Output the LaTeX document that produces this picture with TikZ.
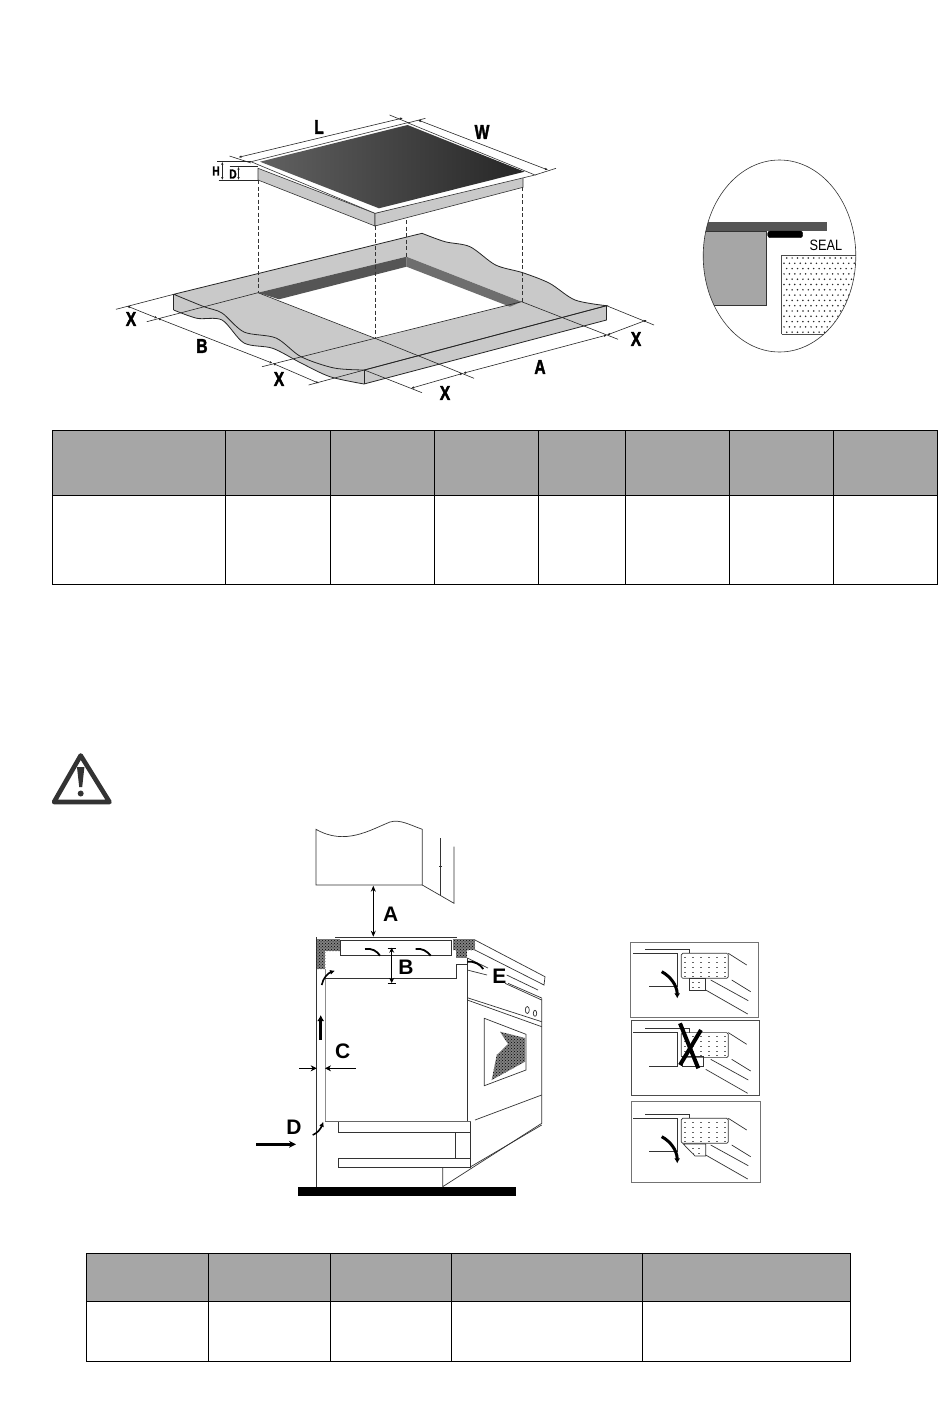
\documentclass[tikz,border=0pt]{standalone}
\usepackage{fontspec}
\setmainfont{Liberation Sans}
\newfontfamily\heavyfont[BoldFeatures={FakeBold=2.2}]{Liberation Sans}
\usepackage{tikz}
\usetikzlibrary{patterns}
\usetikzlibrary{arrows.meta}
\definecolor{tablehead}{HTML}{A6A6A6}
\definecolor{slabgray}{HTML}{C9C9C9}
\definecolor{walldark}{HTML}{555555}
\tikzset{
  dimline/.style={draw=black!85, line width=0.6pt},
  dimarrow/.style={dimline, {Latex[length=3pt,width=2.5pt]}-{Latex[length=3pt,width=2.5pt]}},
  hidden/.style={draw=black!80, line width=0.5pt, dashed, dash pattern=on 4pt off 2.5pt},
  hoblabel/.style={font=\heavyfont\bfseries\fontsize{20}{20}\selectfont, xscale=0.78, inner sep=0pt},
  smalllabel/.style={font=\heavyfont\bfseries\fontsize{13}{13}\selectfont, xscale=0.78, inner sep=0pt},
  ovenlabel/.style={font=\bfseries\fontsize{21}{21}\selectfont, inner sep=0pt},
  ovenline/.style={draw=black!80, line width=0.7pt},
  tablegrid/.style={draw=black, line width=0.9pt},
  flow/.style={line width=2.4pt, -{Latex[length=5pt,width=6pt]}},
  panelbox/.style={draw=black!55, line width=1pt},
  hatchblock/.style={fill=black!50, postaction={pattern=crosshatch dots, pattern color=black}},
  ventpanel/.pic={
    \draw[ovenline] (25,14.3) -- (69.3,14.3) -- (69.3,18.3);
    \draw[ovenline] (13.3,18.3) -- (57.3,18.3) -- (57.3,51.7) -- (29,51.7);
    \draw[ovenline, rounded corners=1.5pt] (61.3,18.3) -- (108.3,18.3) -- (108.3,43.3) -- (61.3,43.3) -- cycle;
    \foreach \px in {64,72,80,88,96,104}
      \foreach \py in {22,27,32,37,41}
        \draw[black!60, line width=0.8pt] (\px,\py) -- ++(2.4,0);
    \draw[ovenline] (108.3,18.3) -- (126.7,30);
    \draw[ovenline] (111.7,45) -- (130.7,56.7);
    \draw[ovenline] (90.7,45) -- (128.3,65.7);
    \draw[ovenline] (85.7,55) -- (127.7,79);
  }
}
\begin{document}
\begin{tikzpicture}[x=1pt, y=-1pt]
  \useasboundingbox (0,0) rectangle (950,1419);
  \fill[white] (0,0) rectangle (950,1419);

  % worktop
  \fill[slabgray] (173.7,294.3) -- (173.7,310) -- plot[smooth] coordinates {(173.7,310) (197,318.3) (222,320) (244,343) (272.7,348.3) (301,363) (330,376.7) (364,384)} -- (606.5,320) -- (606.5,305.7) -- cycle;
  \draw[black!85, line width=0.8pt, fill=slabgray] (173.7,294.3) -- (422,233.3) -- plot[smooth] coordinates {(422,233.3) (445,241.7) (470,246.7) (495.6,265) (522.7,272.7) (549.6,283.3) (575,300) (606.5,305.7)} -- (364.4,370) -- plot[smooth] coordinates {(364.4,370) (334,368) (301,356.7) (276,338) (244,332) (222,313) (204,306.7) (173.7,294.3)};
  \draw[black!85, line width=0.8pt] plot[smooth] coordinates {(173.7,310) (197,318.3) (222,320) (244,343) (272.7,348.3) (301,363) (330,376.7) (364,384)} -- (606.5,320) -- (606.5,305.7);
  \draw[black!85, line width=0.8pt] (173.7,294.3) -- (173.7,310);
  \draw[black!85, line width=0.8pt] (364.4,370) -- (364.4,384);
  \fill[white] (258,292.7) -- (406.5,256.7) -- (521.6,301.7) -- (375,338.3) -- cycle;
  \fill[walldark] (258,292.7) -- (406.5,256.7) -- (406.5,266.7) -- (279,299.3) -- cycle;
  \fill[walldark!85] (406.5,256.7) -- (521.6,301.7) -- (510,306.7) -- (406.5,266.7) -- cycle;

  % extension lines
  \coordinate (xa) at (157.6,318.3);
  \coordinate (xb) at (127,306);
  \coordinate (xc) at (272.7,363.3);
  \coordinate (xd) at (319,383.3);
  \coordinate (xe) at (411,388.3);
  \coordinate (xf) at (463,373.3);
  \coordinate (xg) at (607,335);
  \coordinate (xh) at (646.8,320);
  \draw[dimline] (116,309.3) -- (173.7,294.3);
  \draw[dimline] (146.8,321.7) -- (258,292.7);
  \draw[dimline] (262,366.7) -- (375,338.3) -- (521.6,301.7);
  \draw[dimline] (308.6,385) -- (364.4,370) -- (606.5,305.7);
  \draw[dimline] (258,292.7) -- (375,338.3) -- (474,378.3);
  \draw[dimline] (521.6,301.7) -- (618,339.3);
  \draw[dimline] (606.5,305.7) -- (654,325);
  \draw[dimline] (364.4,370) -- (422,392.7);
  \draw[dimarrow] (xb) -- (xa);
  \draw[dimarrow] (xa) -- (xc);
  \draw[dimarrow] (xc) -- (xd);
  \draw[dimarrow] (xe) -- (xf);
  \draw[dimarrow] (xf) -- (xg);
  \draw[dimarrow] (xg) -- (xh);

  % hob
  \draw[black!80, line width=0.6pt, fill=slabgray] (258,168.3) -- (375,213.3) -- (375,226) -- (258,180) -- cycle;
  \draw[black!80, line width=0.6pt, fill=slabgray] (375,213.3) -- (523,176) -- (523,187.3) -- (375,226) -- cycle;
  \draw[black!80, line width=0.6pt, fill=white] (251,161.7) -- (407.5,122.7) -- (535,175) -- (375,213.3) -- cycle;
  \shade[left color=black!62, middle color=black!55, right color=black!85] (260,161.7) -- (407.5,125) -- (524.5,171.7) -- (379,208.3) -- cycle;
  \draw[hidden] (258,180) -- (258,292.7);
  \draw[hidden] (375,226) -- (375,338.3);
  \draw[hidden] (406.5,220) -- (406.5,256.7);
  \draw[hidden] (522.7,187.3) -- (522.7,301.7);

  % hob dimensions
  \coordinate (la) at (238.5,157.3);
  \coordinate (lb) at (403,118);
  \coordinate (wa) at (418,120);
  \coordinate (wb) at (548,170);
  \coordinate (ha) at (222.3,161.7);
  \coordinate (hb) at (222.3,180);
  \coordinate (da) at (238.5,166.7);
  \coordinate (db) at (238.5,180);
  \draw[dimline] (229.5,156) -- (251,163);
  \draw[dimline] (389.6,115) -- (409,123);
  \draw[dimline] (407.5,123) -- (425.5,118.3);
  \draw[dimline] (535,175) -- (556,168.3);
  \draw[dimline] (217,161.7) -- (251,161.7);
  \draw[dimline] (229.5,166.7) -- (258,166.7);
  \draw[dimline] (218.7,180) -- (258,180);
  \draw[dimarrow] (la) -- (lb);
  \draw[dimarrow] (wa) -- (wb);
  \draw[dimarrow] (ha) -- (hb);
  \draw[dimarrow] (da) -- (db);

  \node[hoblabel] (labl) at (319,127){L};
  \node[hoblabel] (labw) at (482,132){W};
  \node[smalllabel] (labh) at (216,171){H};
  \node[smalllabel] (labd) at (233,174){D};
  \node[hoblabel] (labx1) at (131,319){X};
  \node[hoblabel] (labb) at (202,346){B};
  \node[hoblabel] (labx2) at (279,379){X};
  \node[hoblabel] (labx3) at (445,393){X};
  \node[hoblabel] (laba) at (540,367){A};
  \node[hoblabel] (labx4) at (636,339){X};

  % seal detail
  \begin{scope}
    \clip (779.5,256) ellipse [x radius=76.3, y radius=96];
    \draw[black!80, line width=0.8pt, fill=black!35] (700,231) -- (766.7,231) -- (766.7,305) -- (700,305);
    \fill[walldark] (700,221.7) rectangle (827,231);
    \draw[black!70, line width=0.7pt] (781.7,334.3) -- (781.7,255) -- (860,255);
    \draw[black!70, line width=0.7pt] (781.7,334.3) -- (860,334.3);
    \foreach \py [count=\rowno] in {258,263.3,...,334}
      \foreach \px in {784,789.4,...,860}
        \fill[black!85] ({\px+mod(\rowno,2)*2.7},\py) circle (0.85);
  \end{scope}
  \draw[black!80, line width=0.6pt] (779.5,256) ellipse [x radius=76.3, y radius=96];
  \draw[black, fill=black, rounded corners=2.5pt] (767.7,231) rectangle (802.7,237.7);
  \node[inner sep=0pt, font=\fontsize{15}{15}\selectfont, xscale=0.85] (labseal) at (826,245){SEAL};

  % first table
  \fill[tablehead] (52,430) rectangle (937,495);
  \draw[tablegrid] (52,430) rectangle (937,584);
  \draw[tablegrid] (52,495) -- (937,495);
  \foreach \cx in {225,330,434,538,625,729,833}
    \draw[tablegrid] (\cx,430) -- (\cx,584);

  % warning sign
  \draw[black!80, line width=4.6pt, line join=round] (80.7,755.5) -- (54,802) -- (109.5,802) -- cycle;
  \fill[black!80] (77,767) -- (84.4,767) -- (82.2,787) -- (79.2,787) -- cycle;
  \fill[black!80] (80.7,793.5) circle (3);

  % wall cabinet
  \draw[ovenline] (316,885) -- (316,829.3) .. controls (345,846) and (370,830) .. (390,822) .. controls (400,819) and (410,825) .. (422.3,829.3) -- (422.3,885) -- cycle;
  \draw[ovenline] (422.3,885) -- (454,903.3) -- (454,846.7);
  \draw[ovenline] (440.7,838.3) -- (440.7,895.7);
  \draw[ovenline] (439,866) -- (442,866);

  % carcass
  \fill[black] (298.3,1186.7) rectangle (516,1195.7);
  \draw[ovenline] (316.7,937.3) -- (316.7,1186.7);
  \draw[black!45, line width=1pt] (325,969) -- (325,1121.7);
  \draw[ovenline] (335,937.3) -- (456.7,937.3);
  \draw[ovenline] (340.7,940) -- (340.7,955.7) -- (451.7,955.7) -- (451.7,940) -- cycle;
  \draw[ovenline] (325,978.3) -- (456.7,978.3) -- (456.7,964) -- (467.3,964);
  \draw[ovenline] (467.3,958) -- (467.3,1121.7);
  \draw[black!60, line width=0.8pt] (325,1121.7) -- (470.7,1121.7);
  \path[hatchblock] (316.7,939) rectangle (340,951);
  \path[hatchblock] (316.7,951) rectangle (325.3,969);
  \path[hatchblock] (453.3,939) rectangle (475,950);
  \path[hatchblock] (456,950) rectangle (467.3,957.7);

  % drawers
  \draw[ovenline] (338.3,1122.3) -- (338.3,1132.3) -- (470.7,1132.3) -- (470.7,1167.7) -- (338.3,1167.7) -- (338.3,1158.3) -- (470.7,1158.3);
  \draw[ovenline] (455.3,1132.3) -- (455.3,1158.3);
  \draw[ovenline] (470.7,1121.7) -- (470.7,1132.3);
  \draw[ovenline] (442.7,1167.7) -- (442.7,1186.7) -- (541.7,1123.3) -- (541.7,998.3);
  \draw[ovenline] (470.7,1166.7) -- (541.7,1125);
  \draw[ovenline] (475,1120) -- (541.7,1095);

  % oven front
  \draw[ovenline] (505,983.3) -- (541.7,1000);
  \draw[ovenline] (467.3,997.7) -- (541.7,1021.7);
  \draw[ovenline] (467.3,1000) -- (541.7,1026.7);
  \draw[ovenline] (527.3,1010) ellipse [x radius=2, y radius=3.5];
  \draw[ovenline] (535,1013.3) ellipse [x radius=1.7, y radius=3];
  \draw[ovenline] (484.3,1018.3) -- (526,1034.3) -- (526,1070) -- (484.3,1085.7) -- cycle;
  \path[hatchblock] (500,1031.7) -- (525,1038) -- (525,1061.7) -- (491.7,1080) -- (496.7,1055) -- (508,1044) -- cycle;

  % worktop edge on the right
  \draw[ovenline] (475,940) -- (545,976.7) -- (544,985) -- (475,950);
  \draw[ovenline] (506.7,975) -- (538,990);
  \draw[ovenline] (508,983.3) -- (541.7,998);
  \draw[ovenline] (467.3,970) -- (487,975);
  \draw[ovenline] (467.3,958) -- (488,968);

  % clearances
  \coordinate (aa) at (373.3,885.7);
  \coordinate (ab) at (373.3,936.7);
  \coordinate (ba) at (391.7,947.7);
  \coordinate (bb) at (391.7,983);
  \coordinate (ca) at (299.3,1068.3);
  \coordinate (cb) at (316.7,1068.3);
  \coordinate (cc) at (355.7,1068.3);
  \coordinate (cd) at (325,1068.3);
  \coordinate (da2) at (256,1144.3);
  \coordinate (db2) at (296,1144.3);
  \draw[line width=0.8pt, {Stealth[length=6pt,width=5pt]}-{Stealth[length=6pt,width=5pt]}] (aa) -- (ab);
  \draw[line width=0.8pt, {Stealth[length=5pt,width=5pt]}-{Stealth[length=5pt,width=5pt]}] (ba) -- (bb);
  \draw[line width=0.6pt] (387.5,948) -- (396,948);
  \draw[line width=0.6pt] (387.5,983) -- (396,983);
  \draw[line width=0.7pt, -{Stealth[length=6pt,width=6pt]}] (ca) -- (cb);
  \draw[line width=0.7pt, -{Stealth[length=6pt,width=6pt]}] (cc) -- (cd);
  \draw[flow, line width=2.6pt, -{Stealth[length=7pt,width=7pt]}] (da2) -- (db2);
  \draw[flow, line width=3pt, -{Latex[length=6pt,width=7pt]}] (320.7,1040) -- (320.7,1015);
  \draw[flow, line width=1.6pt, -{Latex[length=5pt,width=5pt]}] (321.7,985) .. controls (323,978) and (328,973) .. (335,970.7);
  \draw[flow, line width=1.6pt, -{Latex[length=5pt,width=5pt]}] (312.7,1135) .. controls (318,1133) and (321,1128) .. (323.3,1121.7);
  \draw[line width=1.8pt] (365,949) .. controls (372,948) and (377,951) .. (380,955.7);
  \draw[line width=1.8pt] (415.7,949) .. controls (422,948) and (427,951) .. (430.7,955.7);
  \draw[line width=1.8pt] (467.3,961.7) .. controls (474,961) and (480,964) .. (483.3,969);

  \node[ovenlabel] (capa) at (390.7,914){A};
  \node[ovenlabel] (capb) at (406,967){B};
  \node[ovenlabel] (capc) at (342.7,1051){C};
  \node[ovenlabel] (capd) at (294,1127.5){D};
  \node[ovenlabel] (cape) at (499.3,976){E};

  % vent panels
  \draw[panelbox] (630.7,942.3) rectangle (758.3,1017.3);
  \draw[panelbox, draw=black!70] (631.7,1020.3) rectangle (759,1095.7);
  \draw[panelbox] (631.7,1101) rectangle (760,1182.3);
  \path (620,935) pic {ventpanel};
  \path (620,1014.3) pic {ventpanel};
  \path (620,1100) pic {ventpanel};
  \draw[ovenline] (689.3,978.3) rectangle (705.7,990);
  \draw[ovenline] (682.3,1056.6) rectangle (703.3,1066.6);
  \draw[ovenline] (683.3,1144) -- (705.7,1144) -- (705.7,1156) -- (695,1156) -- cycle;
  \foreach \px in {692,698}
    \foreach \py in {982,987}
      \draw[black!60, line width=0.8pt] (\px,\py) -- ++(2.4,0);
  \foreach \px in {692,698}
    \foreach \py in {1148,1153}
      \draw[black!60, line width=0.8pt] (\px,\py) -- ++(2.4,0);
  \draw[flow, line width=3pt, -{Latex[length=5pt,width=6pt]}] (661.7,971.7) .. controls (670,976) and (677,985) .. (677.3,998.3);
  \draw[flow, line width=3pt, -{Latex[length=5pt,width=6pt]}] (661.7,1136.7) .. controls (670,1141) and (677,1150) .. (677.3,1163.3);
  \draw[black, line width=4pt] (680,1023.3) -- (698.3,1068.3);
  \draw[black, line width=4pt] (701,1030) -- (680,1065);

  % second table
  \fill[tablehead] (86,1253) rectangle (850,1301);
  \draw[tablegrid] (86,1253) rectangle (850,1361);
  \draw[tablegrid] (86,1301) -- (850,1301);
  \foreach \cx in {208,330,451,642}
    \draw[tablegrid] (\cx,1253) -- (\cx,1361);
\end{tikzpicture}
\end{document}
